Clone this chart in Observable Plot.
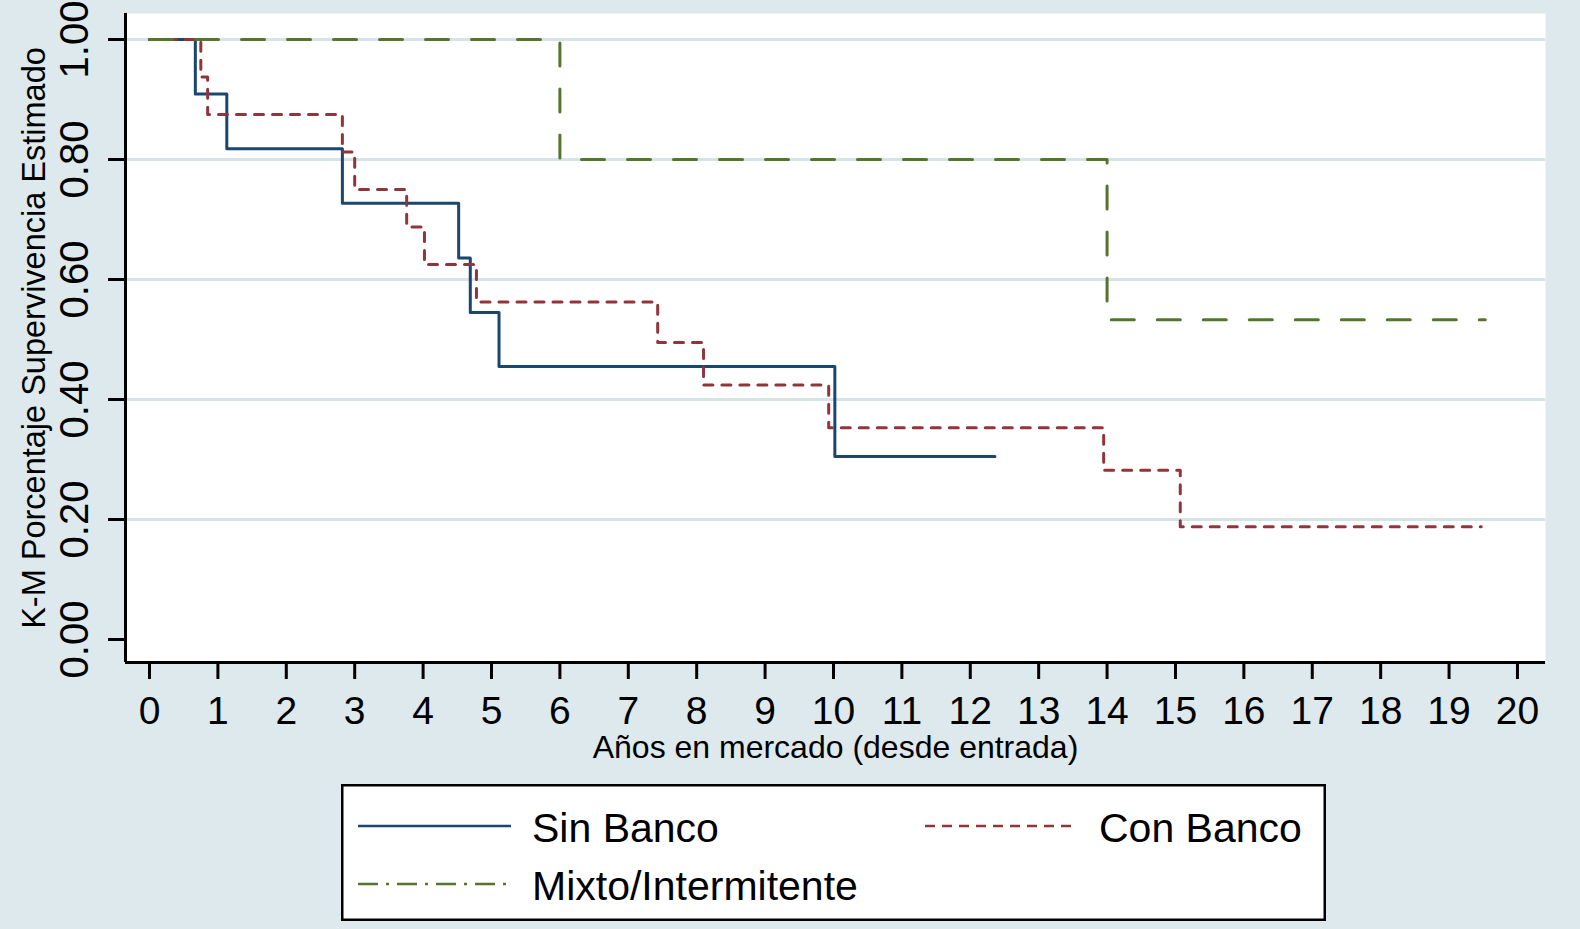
<!DOCTYPE html>
<html><head><meta charset="utf-8">
<script src="https://cdn.jsdelivr.net/npm/d3@7"></script>
<script src="https://cdn.jsdelivr.net/npm/@observablehq/plot@0.6"></script>
<style>
html,body{margin:0;padding:0;background:#dde9ec;}
#wrap{position:relative;width:1580px;height:929px;overflow:hidden;background:#dde9ec;font-family:"Liberation Sans",Arial,sans-serif;}
#chart svg{display:block}
#legend{position:absolute;left:341px;top:784px;}
</style></head><body><div id="wrap"><div id="chart"></div><div id="legend"></div></div>
<script>
// Kaplan-Meier step data (time in years, estimated survival)
const sinBancoT = [0, 0.67, 1.13, 2.82, 4.52, 4.69, 5.11, 10.02, 12.36];
const sinBancoS = [1.0, 0.909, 0.818, 0.727, 0.636, 0.545, 0.455, 0.305, 0.305];
const conBancoT = [0, 0.75, 0.85, 2.82, 3.0, 3.76, 4.02, 4.78, 7.43, 8.10, 9.93, 13.95, 15.07, 19.47];
const conBancoS = [1.0, 0.9375, 0.875, 0.8125, 0.75, 0.6875, 0.625, 0.5625, 0.495, 0.424, 0.353, 0.282, 0.188, 0.188];
const mixtoT = [0, 6.0, 14.0, 19.53];
const mixtoS = [1.0, 0.80, 0.533, 0.533];

const seriesNames = ["Sin Banco", "Con Banco", "Mixto/Intermitente"];
const seriesColors = ["#1a476f", "#90353b", "#55752f"];
const seriesDash = [null, "9,9", "23,23"];
const legendDash = [null, "10,7", "20,8,3,8"];

const xTicks = [0,1,2,3,4,5,6,7,8,9,10,11,12,13,14,15,16,17,18,19,20];
const yTicks = [0, 0.2, 0.4, 0.6, 0.8, 1.0];
const gridTicks = [0.2, 0.4, 0.6, 0.8, 1.0];
const xTitle = "Años en mercado (desde entrada)";
const yTitle = "K-M Porcentaje Supervivencia Estimado";

const xDomain = [-0.351, 20.41];
const yDomain = [-0.0383, 1.0433];

const series = [[sinBancoT, sinBancoS], [conBancoT, conBancoS], [mixtoT, mixtoS]]
  .map(([T, S], i) => T.map((t, j) => ({t, s: S[j], name: seriesNames[i]})));

const font = '"Liberation Sans", Arial, sans-serif';

const chart = Plot.plot({
  width: 1580, height: 770,
  marginLeft: 125, marginRight: 35, marginTop: 13, marginBottom: 108,
  style: {background: "transparent", fontFamily: font, color: "black"},
  x: {domain: xDomain},
  y: {domain: yDomain},
  marks: [
    Plot.frame({fill: "white", stroke: "none"}),
    Plot.gridY(gridTicks, {stroke: "#d6e4e8", strokeOpacity: 1, strokeWidth: 3}),
    ...series.map((rows, i) => Plot.line(rows, {
      x: "t", y: "s", curve: "step-after",
      stroke: seriesColors[i], strokeWidth: 3,
      strokeDasharray: seriesDash[i] || undefined
    })),
    Plot.ruleX([xDomain[0]], {stroke: "black", strokeWidth: 3}),
    Plot.ruleY([yDomain[0]], {stroke: "black", strokeWidth: 3}),
    Plot.axisX(xTicks, {tickSize: 17, tickPadding: 17, fontSize: 39, strokeWidth: 3, label: null}),
    Plot.axisX({ticks: [], tickSize: 0, label: xTitle, labelAnchor: "center", labelArrow: "none", labelOffset: 95, fontSize: 32, dx: 17}),
    Plot.axisY(yTicks, {tickSize: 17, tickPadding: 21, tickRotate: -90, tickFormat: d3.format(".2f"), fontSize: 40, strokeWidth: 3, label: null}),
    Plot.axisY({ticks: [], tickSize: 0, label: yTitle, labelAnchor: "center", labelArrow: "none", labelOffset: 104, fontSize: 32.5})
  ]
});
document.getElementById("chart").appendChild(chart);

// Legend (below the plot)
const lw = 985, lh = 137;
const lsvg = d3.select("#legend").append("svg").attr("width", lw).attr("height", lh)
  .style("font-family", font);
lsvg.append("rect").attr("x", 1.25).attr("y", 1.25).attr("width", lw - 2.5).attr("height", lh - 2.5)
  .attr("fill", "white").attr("stroke", "black").attr("stroke-width", 2.5);
const legendPos = [[17, 42], [584, 42], [17, 100]];
seriesNames.forEach((name, i) => {
  const [x, y] = legendPos[i];
  lsvg.append("line").attr("x1", x).attr("x2", x + 153).attr("y1", y).attr("y2", y)
    .attr("stroke", seriesColors[i]).attr("stroke-width", 2.5)
    .attr("stroke-dasharray", legendDash[i]);
  lsvg.append("text").attr("x", x + 174).attr("y", y + 16).attr("font-size", 41)
    .attr("fill", "black").text(name);
});
</script></body></html>
